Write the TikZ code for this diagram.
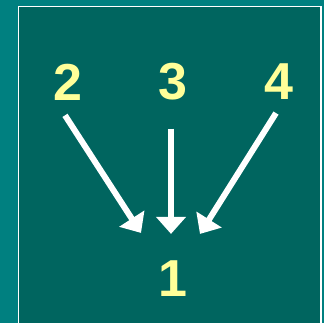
\documentclass[tikz,border=0pt]{standalone}
\usepackage{fontspec}
\setmainfont{Liberation Sans}
\usetikzlibrary{arrows.meta}
\begin{document}
\begin{tikzpicture}[x=1pt, y=-1pt, >={Triangle[width=29pt, length=17pt]},
	num/.style={text=numyellow, inner sep=0pt, font=\fontsize{52}{52}\selectfont\bfseries},
	arr/.style={->, white, line width=6pt}]
		\definecolor{outerteal}{RGB}{0, 128, 128}
		\definecolor{innerteal}{RGB}{0, 101, 95}
		\definecolor{numyellow}{RGB}{255, 255, 153}
		
		% 背景
		\useasboundingbox (0,0) rectangle (324,323);
		\fill[outerteal] (0,0) rectangle (324,323);
		\filldraw[fill=innerteal, draw=white, line width=1.2pt] (18.5,6.5) rectangle (321,330);
		
		% 数字
		\node[num] (n2) at (68,82) {2};
		\node[num] (n3) at (173,82) {3};
		\node[num] (n4) at (279,82) {4};
		\node[num] (n1) at (173,279) {1};
		
		% 箭头端点
		\coordinate (s2) at ([shift={(-3,15)}]n2.south);
		\coordinate (s3) at ([shift={(-2,28)}]n3.south);
		\coordinate (s4) at ([shift={(-3,13)}]n4.south);
		\coordinate (e2) at ([shift={(-32,-28)}]n1.north);
		\coordinate (e3) at ([shift={(-2,-27)}]n1.north);
		\coordinate (e4) at ([shift={(27,-27)}]n1.north);
		
		% 箭头
		\draw[arr] (s2) -- (e2);
		\draw[arr] (s3) -- (e3);
		\draw[arr] (s4) -- (e4);
	\end{tikzpicture}
\end{document}
